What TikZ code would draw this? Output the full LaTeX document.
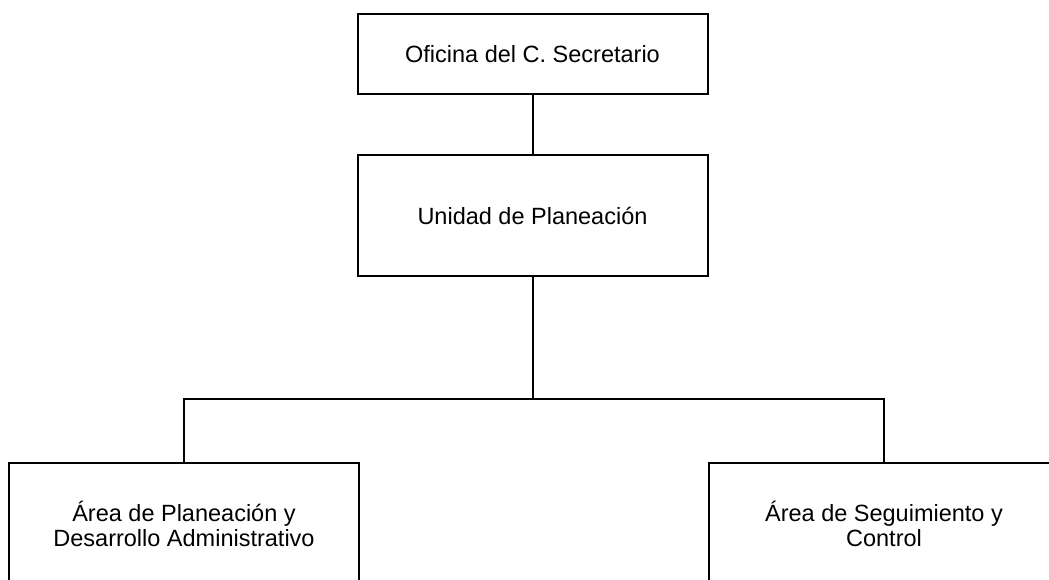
\documentclass[tikz,border=0pt]{standalone}
\usepackage{fontspec}
\setmainfont{Liberation Sans}
\usepackage{tikz}
\usetikzlibrary{positioning}
\tikzstyle{caja}=[draw=black, line width=2pt, minimum width=350pt, align=center, inner sep=0pt,
  font=\fontsize{23.5}{25}\selectfont]
\tikzstyle{linea}=[line width=2pt]

\begin{document}
\begin{tikzpicture}[x=1pt, y=1pt]

    % Page frame: 1049 x 580
    \useasboundingbox (0,0) rectangle (1049,580);
    \clip (0,0) rectangle (1049,580);

    % Boxes of the chart
    \node[caja, minimum height=80pt] (sec) at (532.5,526) {Oficina del C. Secretario};
    \node[caja, minimum height=121pt] (uni) at (532.5,364.5) {Unidad de Planeación};
    \node[caja, minimum height=121pt] (izq) at (184,56)
        {Área de Planeación y\\Desarrollo Administrativo};
    \node[caja, minimum height=121pt] (der) at (884,56)
        {Área de Seguimiento y\\Control};

    % Branch point
    \coordinate (bus) at (532.5,181);

    % Connectors
    \draw[linea] (sec) -- (uni);
    \draw[linea] (uni) -- (bus);
    \draw[linea] (izq.north) |- (bus) -| (der.north);

\end{tikzpicture}
\end{document}
